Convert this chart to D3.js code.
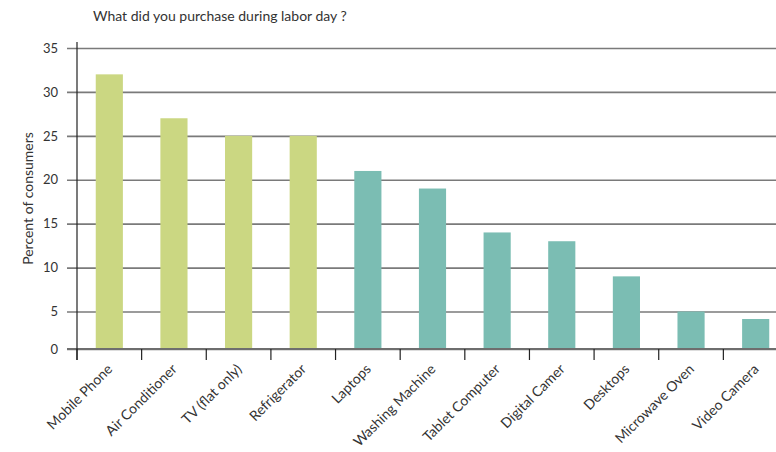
<!DOCTYPE html>
<html>
<head>
<meta charset="utf-8">
<script src="https://cdn.jsdelivr.net/npm/d3@7"></script>
<style>
  body { margin: 0; background: #fff; }
  text { font-family: Lato, "Open Sans", sans-serif; fill: #333; }
</style>
</head>
<body>
<div id="chart"></div>
<script>
// data
var categories = ["Mobile Phone", "Air Conditioner", "TV (flat only)", "Refrigerator", "Laptops",
  "Washing Machine", "Tablet Computer", "Digital Camer", "Desktops", "Microwave Oven", "Video Camera"];
var percents = [32, 27, 25, 25, 21, 19, 14, 13, 9, 5, 4];
var groups = ["top", "top", "top", "top", "rest", "rest", "rest", "rest", "rest", "rest", "rest"];
var yTicks = [0, 5, 10, 15, 20, 25, 30, 35];

var W = 776, H = 452;
var margin = {top: 48, left: 77, bottom: 103};
var plotRight = 788; // last band runs a little past the window

var svg = d3.select("#chart").append("svg")
  .attr("width", W).attr("height", H);

var x = d3.scaleBand()
  .domain(categories)
  .range([margin.left, plotRight])
  .paddingInner(0.58)
  .paddingOuter(0.29);

// the zero line sits a little higher than the 5-unit spacing would give
var y = d3.scaleLinear()
  .domain([0, 5, 35])
  .range([H - margin.bottom, H - margin.bottom - 37.5, margin.top]);

var color = d3.scaleOrdinal().domain(["top", "rest"]).range(["#cbd782", "#7bbdb3"]);

// gridlines + y labels
var yAxis = svg.append("g")
  .attr("transform", "translate(" + margin.left + ",0)")
  .call(d3.axisLeft(y).tickValues(yTicks).tickSize(-(W - margin.left)).tickSizeOuter(0).tickPadding(10));
yAxis.select(".domain").remove();
yAxis.selectAll(".tick line")
  .attr("x1", -10)
  .attr("stroke", "#7a7a7a")
  .attr("stroke-width", 1.6);
yAxis.selectAll(".tick text")
  .attr("x", -19)
  .style("font-size", "13px")
  .style("font-family", "Lato, sans-serif")
  .style("fill", "#333");

// bars
svg.append("g").selectAll("rect")
  .data(percents)
  .join("rect")
  .attr("x", function(d, i) { return x(categories[i]); })
  .attr("width", x.bandwidth())
  .attr("y", function(d) { return y(d); })
  .attr("height", function(d) { return y(0) - y(d); })
  .attr("fill", function(d, i) { return color(groups[i]); });

// redraw zero line over the bars
svg.append("line")
  .attr("x1", margin.left - 10).attr("x2", W)
  .attr("y1", y(0)).attr("y2", y(0))
  .attr("stroke", "#6e6e6e").attr("stroke-width", 1.8);

// x axis ticks at band edges
var edges = categories.map(function(c) { return x(c) - x.step() * x.paddingOuter(); });
svg.append("g").selectAll("line")
  .data(edges)
  .join("line")
  .attr("x1", function(d) { return d; }).attr("x2", function(d) { return d; })
  .attr("y1", y(0)).attr("y2", y(0) + 11)
  .attr("stroke", "#222").attr("stroke-width", 1.2);

// y axis line
svg.append("line")
  .attr("x1", margin.left).attr("x2", margin.left)
  .attr("y1", margin.top - 6).attr("y2", y(0) + 11)
  .attr("stroke", "#222").attr("stroke-width", 1.2);

// category labels
svg.append("g").selectAll("text")
  .data(categories)
  .join("text")
  .attr("transform", function(d) {
    return "translate(" + (x(d) + x.bandwidth() / 2 + 4) + "," + (y(0) + 21) + ") rotate(-45)";
  })
  .attr("text-anchor", "end")
  .style("font-size", "14px")
  .text(function(d) { return d; });

// title
svg.append("text")
  .attr("x", 93).attr("y", 21)
  .style("font-size", "14px")
  .text("What did you purchase during labor day ?");

// y axis title
svg.append("text")
  .attr("transform", "translate(33," + ((margin.top + y(0)) / 2) + ") rotate(-90)")
  .attr("text-anchor", "middle")
  .style("font-size", "14px")
  .text("Percent of consumers");
</script>
</body>
</html>
